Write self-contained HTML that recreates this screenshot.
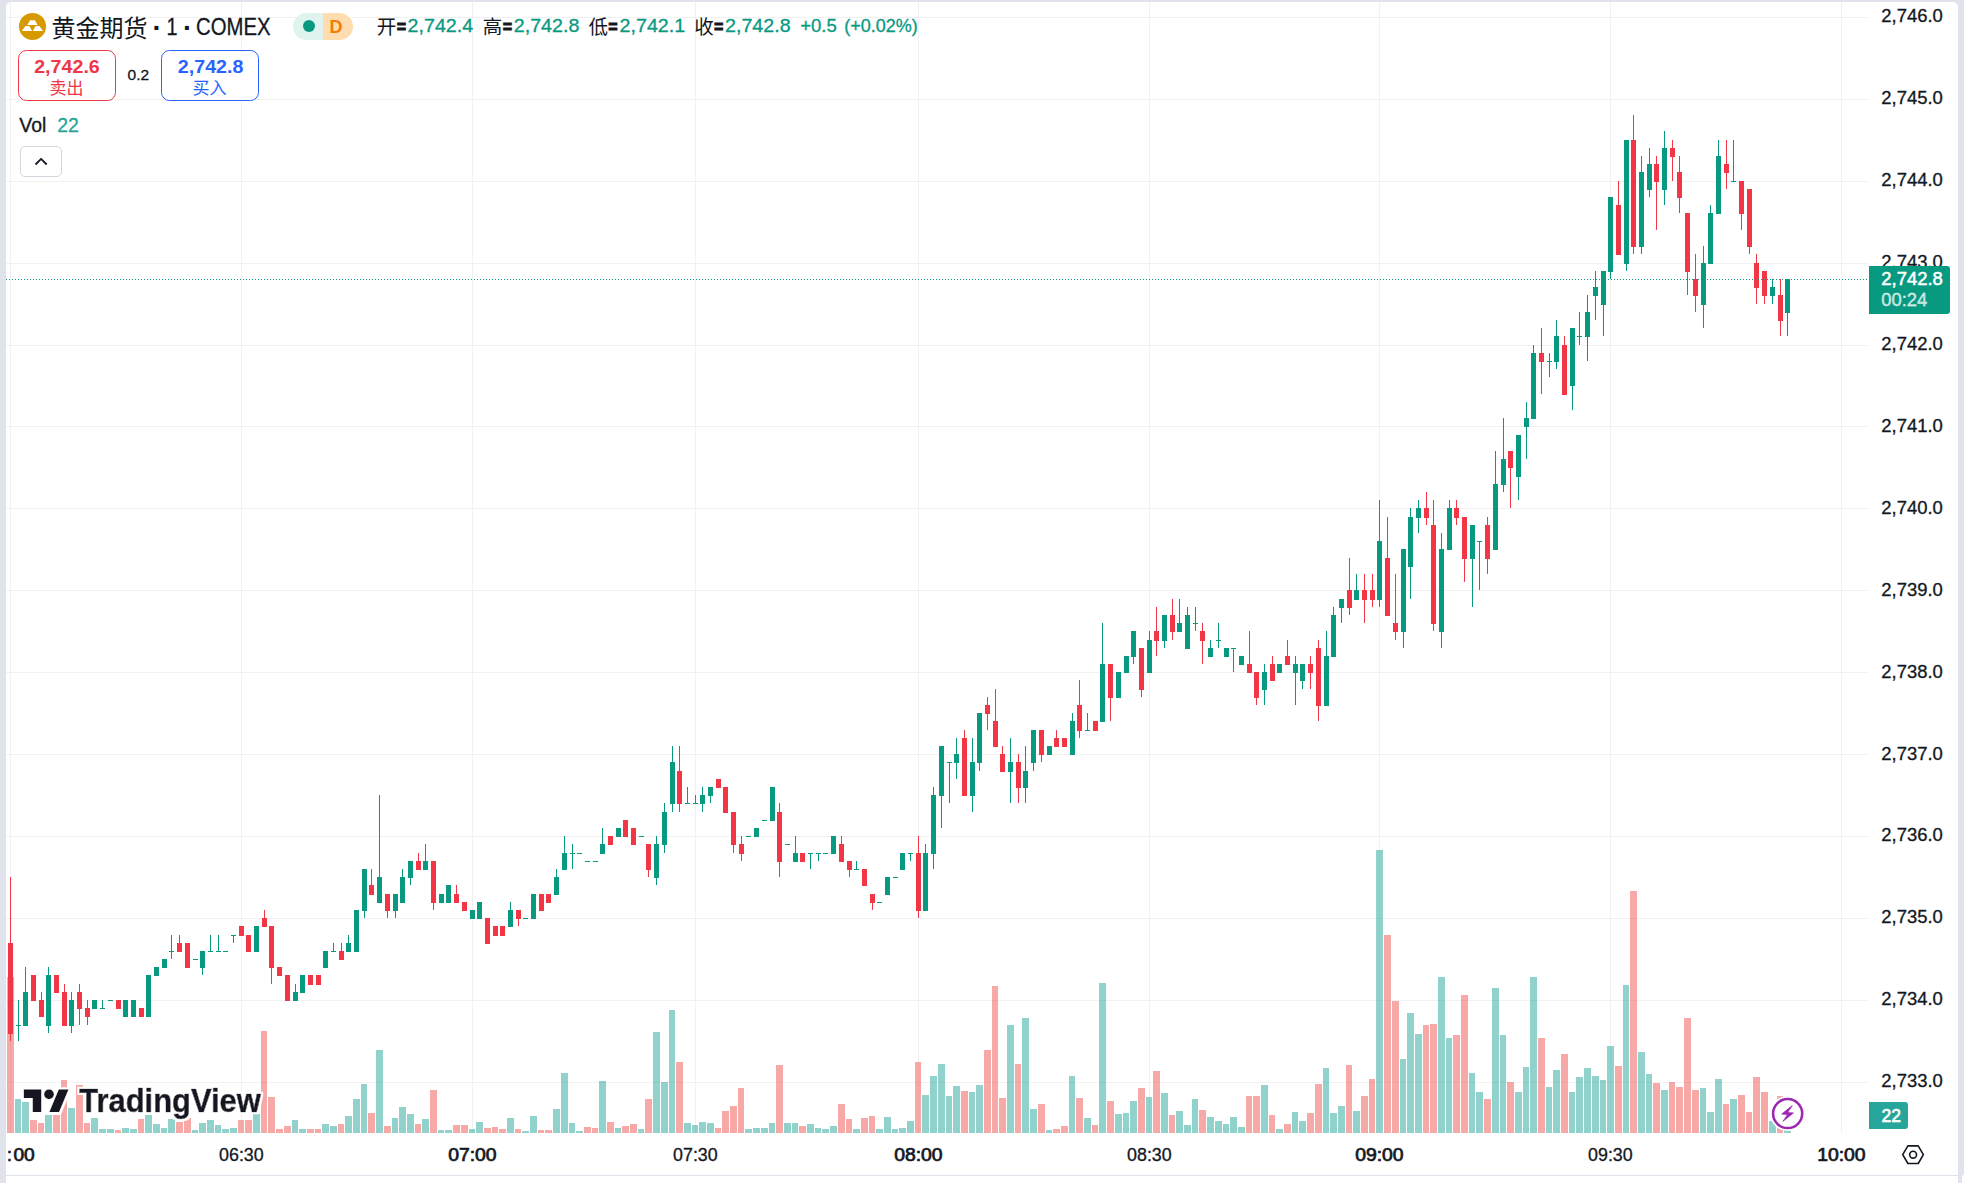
<!DOCTYPE html>
<html lang="zh-CN"><head><meta charset="utf-8"><title>黄金期货 · 1 · COMEX</title>
<style>
html,body{margin:0;padding:0;}
body{width:1964px;height:1183px;overflow:hidden;background:#e0e3eb;position:relative;font-family:"Liberation Sans", "Noto Sans CJK SC", sans-serif;}
#panel{position:absolute;left:6px;top:2px;width:1952px;height:1181px;background:#fff;border-radius:5px 5px 0 0;}
#nextpanel{position:absolute;left:1962px;top:1174px;width:8px;height:12px;background:#fff;border-radius:4px 0 0 0;}
#botline{position:absolute;left:6px;top:1175px;width:1952px;height:1px;background:#e0e3eb;}
svg{position:absolute;left:0;top:0;font-family:"Liberation Sans", "Noto Sans CJK SC", sans-serif;}
svg text{white-space:pre;}
</style></head><body>
<div id="panel"></div><div id="botline"></div><div id="nextpanel"></div>
<svg width="1964" height="1183" viewBox="0 0 1964 1183">
<defs><clipPath id="pc"><rect x="6" y="2" width="1952" height="1181"/></clipPath></defs>
<g shape-rendering="crispEdges" fill="#f1f1f2">
<rect x="10" y="2" width="1" height="1131"/>
<rect x="241" y="2" width="1" height="1131"/>
<rect x="472" y="2" width="1" height="1131"/>
<rect x="695" y="2" width="1" height="1131"/>
<rect x="918" y="2" width="1" height="1131"/>
<rect x="1149" y="2" width="1" height="1131"/>
<rect x="1379" y="2" width="1" height="1131"/>
<rect x="1610" y="2" width="1" height="1131"/>
<rect x="1841" y="2" width="1" height="1131"/>
<rect x="6" y="17" width="1862" height="1"/>
<rect x="6" y="99" width="1862" height="1"/>
<rect x="6" y="181" width="1862" height="1"/>
<rect x="6" y="263" width="1862" height="1"/>
<rect x="6" y="345" width="1862" height="1"/>
<rect x="6" y="426" width="1862" height="1"/>
<rect x="6" y="508" width="1862" height="1"/>
<rect x="6" y="590" width="1862" height="1"/>
<rect x="6" y="672" width="1862" height="1"/>
<rect x="6" y="754" width="1862" height="1"/>
<rect x="6" y="836" width="1862" height="1"/>
<rect x="6" y="918" width="1862" height="1"/>
<rect x="6" y="1000" width="1862" height="1"/>
<rect x="6" y="1082" width="1862" height="1"/>
</g>
<g shape-rendering="crispEdges" fill-opacity="0.5">
<rect x="7" y="977" width="7" height="156" fill="#ef5350"/>
<rect x="15" y="1099" width="6" height="34" fill="#26a69a"/>
<rect x="22" y="1102" width="7" height="31" fill="#26a69a"/>
<rect x="30" y="1120" width="7" height="13" fill="#ef5350"/>
<rect x="38" y="1123" width="6" height="10" fill="#ef5350"/>
<rect x="45" y="1115" width="7" height="18" fill="#26a69a"/>
<rect x="53" y="1115" width="7" height="18" fill="#ef5350"/>
<rect x="61" y="1080" width="6" height="53" fill="#ef5350"/>
<rect x="68" y="1108" width="7" height="25" fill="#26a69a"/>
<rect x="76" y="1085" width="7" height="48" fill="#ef5350"/>
<rect x="84" y="1123" width="6" height="10" fill="#ef5350"/>
<rect x="91" y="1118" width="7" height="15" fill="#26a69a"/>
<rect x="99" y="1129" width="7" height="4" fill="#26a69a"/>
<rect x="107" y="1129" width="7" height="4" fill="#26a69a"/>
<rect x="115" y="1130" width="6" height="3" fill="#ef5350"/>
<rect x="122" y="1128" width="7" height="5" fill="#26a69a"/>
<rect x="130" y="1129" width="7" height="4" fill="#26a69a"/>
<rect x="138" y="1119" width="6" height="14" fill="#ef5350"/>
<rect x="145" y="1115" width="7" height="18" fill="#26a69a"/>
<rect x="153" y="1124" width="7" height="9" fill="#26a69a"/>
<rect x="161" y="1128" width="6" height="5" fill="#26a69a"/>
<rect x="168" y="1119" width="7" height="14" fill="#26a69a"/>
<rect x="176" y="1122" width="7" height="11" fill="#ef5350"/>
<rect x="184" y="1118" width="7" height="15" fill="#ef5350"/>
<rect x="192" y="1130" width="6" height="3" fill="#26a69a"/>
<rect x="199" y="1123" width="7" height="10" fill="#26a69a"/>
<rect x="207" y="1120" width="7" height="13" fill="#26a69a"/>
<rect x="215" y="1125" width="6" height="8" fill="#26a69a"/>
<rect x="222" y="1129" width="7" height="4" fill="#26a69a"/>
<rect x="230" y="1128" width="7" height="5" fill="#26a69a"/>
<rect x="238" y="1120" width="6" height="13" fill="#ef5350"/>
<rect x="245" y="1120" width="7" height="13" fill="#ef5350"/>
<rect x="253" y="1114" width="7" height="19" fill="#26a69a"/>
<rect x="261" y="1031" width="6" height="102" fill="#ef5350"/>
<rect x="268" y="1097" width="7" height="36" fill="#ef5350"/>
<rect x="276" y="1129" width="7" height="4" fill="#ef5350"/>
<rect x="284" y="1126" width="7" height="7" fill="#ef5350"/>
<rect x="292" y="1120" width="6" height="13" fill="#26a69a"/>
<rect x="299" y="1129" width="7" height="4" fill="#26a69a"/>
<rect x="307" y="1129" width="7" height="4" fill="#ef5350"/>
<rect x="315" y="1129" width="6" height="4" fill="#ef5350"/>
<rect x="322" y="1124" width="7" height="9" fill="#26a69a"/>
<rect x="330" y="1126" width="7" height="7" fill="#26a69a"/>
<rect x="338" y="1124" width="6" height="9" fill="#ef5350"/>
<rect x="345" y="1116" width="7" height="17" fill="#26a69a"/>
<rect x="353" y="1099" width="7" height="34" fill="#26a69a"/>
<rect x="361" y="1084" width="6" height="49" fill="#26a69a"/>
<rect x="368" y="1113" width="7" height="20" fill="#ef5350"/>
<rect x="376" y="1050" width="7" height="83" fill="#26a69a"/>
<rect x="384" y="1126" width="7" height="7" fill="#ef5350"/>
<rect x="392" y="1118" width="6" height="15" fill="#26a69a"/>
<rect x="399" y="1107" width="7" height="26" fill="#26a69a"/>
<rect x="407" y="1114" width="7" height="19" fill="#26a69a"/>
<rect x="415" y="1124" width="6" height="9" fill="#ef5350"/>
<rect x="422" y="1119" width="7" height="14" fill="#26a69a"/>
<rect x="430" y="1090" width="7" height="43" fill="#ef5350"/>
<rect x="438" y="1130" width="6" height="3" fill="#26a69a"/>
<rect x="445" y="1130" width="7" height="3" fill="#26a69a"/>
<rect x="453" y="1125" width="7" height="8" fill="#ef5350"/>
<rect x="461" y="1125" width="7" height="8" fill="#ef5350"/>
<rect x="469" y="1129" width="6" height="4" fill="#26a69a"/>
<rect x="476" y="1122" width="7" height="11" fill="#26a69a"/>
<rect x="484" y="1128" width="7" height="5" fill="#ef5350"/>
<rect x="492" y="1127" width="6" height="6" fill="#ef5350"/>
<rect x="499" y="1129" width="7" height="4" fill="#ef5350"/>
<rect x="507" y="1118" width="7" height="15" fill="#26a69a"/>
<rect x="515" y="1129" width="6" height="4" fill="#ef5350"/>
<rect x="522" y="1131" width="7" height="2" fill="#26a69a"/>
<rect x="530" y="1116" width="7" height="17" fill="#26a69a"/>
<rect x="538" y="1130" width="6" height="3" fill="#ef5350"/>
<rect x="545" y="1130" width="7" height="3" fill="#ef5350"/>
<rect x="553" y="1109" width="7" height="24" fill="#26a69a"/>
<rect x="561" y="1073" width="7" height="60" fill="#26a69a"/>
<rect x="569" y="1123" width="6" height="10" fill="#26a69a"/>
<rect x="576" y="1131" width="7" height="2" fill="#26a69a"/>
<rect x="584" y="1127" width="7" height="6" fill="#ef5350"/>
<rect x="592" y="1128" width="6" height="5" fill="#ef5350"/>
<rect x="599" y="1081" width="7" height="52" fill="#26a69a"/>
<rect x="607" y="1122" width="7" height="11" fill="#ef5350"/>
<rect x="615" y="1128" width="6" height="5" fill="#26a69a"/>
<rect x="622" y="1126" width="7" height="7" fill="#ef5350"/>
<rect x="630" y="1124" width="7" height="9" fill="#ef5350"/>
<rect x="638" y="1129" width="6" height="4" fill="#26a69a"/>
<rect x="645" y="1099" width="7" height="34" fill="#ef5350"/>
<rect x="653" y="1032" width="7" height="101" fill="#26a69a"/>
<rect x="661" y="1082" width="7" height="51" fill="#26a69a"/>
<rect x="669" y="1010" width="6" height="123" fill="#26a69a"/>
<rect x="676" y="1062" width="7" height="71" fill="#ef5350"/>
<rect x="684" y="1123" width="7" height="10" fill="#26a69a"/>
<rect x="692" y="1125" width="6" height="8" fill="#26a69a"/>
<rect x="699" y="1122" width="7" height="11" fill="#26a69a"/>
<rect x="707" y="1123" width="7" height="10" fill="#26a69a"/>
<rect x="715" y="1128" width="6" height="5" fill="#ef5350"/>
<rect x="722" y="1111" width="7" height="22" fill="#ef5350"/>
<rect x="730" y="1106" width="7" height="27" fill="#ef5350"/>
<rect x="738" y="1088" width="6" height="45" fill="#ef5350"/>
<rect x="745" y="1129" width="7" height="4" fill="#26a69a"/>
<rect x="753" y="1128" width="7" height="5" fill="#26a69a"/>
<rect x="761" y="1128" width="7" height="5" fill="#26a69a"/>
<rect x="769" y="1123" width="6" height="10" fill="#26a69a"/>
<rect x="776" y="1065" width="7" height="68" fill="#ef5350"/>
<rect x="784" y="1123" width="7" height="10" fill="#26a69a"/>
<rect x="792" y="1123" width="6" height="10" fill="#26a69a"/>
<rect x="799" y="1126" width="7" height="7" fill="#ef5350"/>
<rect x="807" y="1124" width="7" height="9" fill="#26a69a"/>
<rect x="815" y="1128" width="6" height="5" fill="#26a69a"/>
<rect x="822" y="1129" width="7" height="4" fill="#26a69a"/>
<rect x="830" y="1126" width="7" height="7" fill="#26a69a"/>
<rect x="838" y="1104" width="7" height="29" fill="#ef5350"/>
<rect x="846" y="1119" width="6" height="14" fill="#ef5350"/>
<rect x="853" y="1129" width="7" height="4" fill="#26a69a"/>
<rect x="861" y="1118" width="7" height="15" fill="#ef5350"/>
<rect x="869" y="1116" width="6" height="17" fill="#ef5350"/>
<rect x="876" y="1129" width="7" height="4" fill="#26a69a"/>
<rect x="884" y="1117" width="7" height="16" fill="#26a69a"/>
<rect x="892" y="1129" width="6" height="4" fill="#26a69a"/>
<rect x="899" y="1128" width="7" height="5" fill="#26a69a"/>
<rect x="907" y="1121" width="7" height="12" fill="#26a69a"/>
<rect x="915" y="1062" width="6" height="71" fill="#ef5350"/>
<rect x="922" y="1095" width="7" height="38" fill="#26a69a"/>
<rect x="930" y="1076" width="7" height="57" fill="#26a69a"/>
<rect x="938" y="1064" width="7" height="69" fill="#26a69a"/>
<rect x="946" y="1096" width="6" height="37" fill="#26a69a"/>
<rect x="953" y="1086" width="7" height="47" fill="#26a69a"/>
<rect x="961" y="1091" width="7" height="42" fill="#ef5350"/>
<rect x="969" y="1092" width="6" height="41" fill="#26a69a"/>
<rect x="976" y="1085" width="7" height="48" fill="#26a69a"/>
<rect x="984" y="1050" width="7" height="83" fill="#ef5350"/>
<rect x="992" y="986" width="6" height="147" fill="#ef5350"/>
<rect x="999" y="1098" width="7" height="35" fill="#ef5350"/>
<rect x="1007" y="1025" width="7" height="108" fill="#26a69a"/>
<rect x="1015" y="1064" width="6" height="69" fill="#ef5350"/>
<rect x="1022" y="1018" width="7" height="115" fill="#26a69a"/>
<rect x="1030" y="1109" width="7" height="24" fill="#26a69a"/>
<rect x="1038" y="1104" width="7" height="29" fill="#ef5350"/>
<rect x="1046" y="1130" width="6" height="3" fill="#26a69a"/>
<rect x="1053" y="1129" width="7" height="4" fill="#ef5350"/>
<rect x="1061" y="1126" width="7" height="7" fill="#ef5350"/>
<rect x="1069" y="1076" width="6" height="57" fill="#26a69a"/>
<rect x="1076" y="1098" width="7" height="35" fill="#ef5350"/>
<rect x="1084" y="1118" width="7" height="15" fill="#26a69a"/>
<rect x="1092" y="1125" width="6" height="8" fill="#ef5350"/>
<rect x="1099" y="983" width="7" height="150" fill="#26a69a"/>
<rect x="1107" y="1101" width="7" height="32" fill="#ef5350"/>
<rect x="1115" y="1114" width="7" height="19" fill="#26a69a"/>
<rect x="1123" y="1113" width="6" height="20" fill="#26a69a"/>
<rect x="1130" y="1101" width="7" height="32" fill="#26a69a"/>
<rect x="1138" y="1088" width="7" height="45" fill="#ef5350"/>
<rect x="1146" y="1097" width="6" height="36" fill="#26a69a"/>
<rect x="1153" y="1071" width="7" height="62" fill="#ef5350"/>
<rect x="1161" y="1093" width="7" height="40" fill="#26a69a"/>
<rect x="1169" y="1115" width="6" height="18" fill="#ef5350"/>
<rect x="1176" y="1111" width="7" height="22" fill="#26a69a"/>
<rect x="1184" y="1125" width="7" height="8" fill="#26a69a"/>
<rect x="1192" y="1099" width="6" height="34" fill="#26a69a"/>
<rect x="1199" y="1110" width="7" height="23" fill="#ef5350"/>
<rect x="1207" y="1117" width="7" height="16" fill="#26a69a"/>
<rect x="1215" y="1121" width="7" height="12" fill="#26a69a"/>
<rect x="1223" y="1124" width="6" height="9" fill="#26a69a"/>
<rect x="1230" y="1117" width="7" height="16" fill="#26a69a"/>
<rect x="1238" y="1127" width="7" height="6" fill="#26a69a"/>
<rect x="1246" y="1096" width="6" height="37" fill="#ef5350"/>
<rect x="1253" y="1096" width="7" height="37" fill="#ef5350"/>
<rect x="1261" y="1085" width="7" height="48" fill="#26a69a"/>
<rect x="1269" y="1115" width="6" height="18" fill="#ef5350"/>
<rect x="1276" y="1129" width="7" height="4" fill="#26a69a"/>
<rect x="1284" y="1124" width="7" height="9" fill="#ef5350"/>
<rect x="1292" y="1112" width="6" height="21" fill="#26a69a"/>
<rect x="1299" y="1121" width="7" height="12" fill="#26a69a"/>
<rect x="1307" y="1113" width="7" height="20" fill="#ef5350"/>
<rect x="1315" y="1084" width="7" height="49" fill="#ef5350"/>
<rect x="1323" y="1068" width="6" height="65" fill="#26a69a"/>
<rect x="1330" y="1113" width="7" height="20" fill="#26a69a"/>
<rect x="1338" y="1106" width="7" height="27" fill="#26a69a"/>
<rect x="1346" y="1065" width="6" height="68" fill="#ef5350"/>
<rect x="1353" y="1111" width="7" height="22" fill="#26a69a"/>
<rect x="1361" y="1096" width="7" height="37" fill="#ef5350"/>
<rect x="1369" y="1079" width="6" height="54" fill="#ef5350"/>
<rect x="1376" y="850" width="7" height="283" fill="#26a69a"/>
<rect x="1384" y="935" width="7" height="198" fill="#ef5350"/>
<rect x="1392" y="1001" width="7" height="132" fill="#ef5350"/>
<rect x="1400" y="1059" width="6" height="74" fill="#26a69a"/>
<rect x="1407" y="1013" width="7" height="120" fill="#26a69a"/>
<rect x="1415" y="1034" width="7" height="99" fill="#26a69a"/>
<rect x="1423" y="1025" width="6" height="108" fill="#ef5350"/>
<rect x="1430" y="1024" width="7" height="109" fill="#ef5350"/>
<rect x="1438" y="977" width="7" height="156" fill="#26a69a"/>
<rect x="1446" y="1038" width="6" height="95" fill="#26a69a"/>
<rect x="1453" y="1035" width="7" height="98" fill="#ef5350"/>
<rect x="1461" y="995" width="7" height="138" fill="#ef5350"/>
<rect x="1469" y="1073" width="6" height="60" fill="#26a69a"/>
<rect x="1476" y="1092" width="7" height="41" fill="#26a69a"/>
<rect x="1484" y="1099" width="7" height="34" fill="#ef5350"/>
<rect x="1492" y="988" width="7" height="145" fill="#26a69a"/>
<rect x="1500" y="1035" width="6" height="98" fill="#26a69a"/>
<rect x="1507" y="1082" width="7" height="51" fill="#ef5350"/>
<rect x="1515" y="1092" width="7" height="41" fill="#26a69a"/>
<rect x="1523" y="1067" width="6" height="66" fill="#26a69a"/>
<rect x="1530" y="977" width="7" height="156" fill="#26a69a"/>
<rect x="1538" y="1038" width="7" height="95" fill="#ef5350"/>
<rect x="1546" y="1087" width="6" height="46" fill="#26a69a"/>
<rect x="1553" y="1070" width="7" height="63" fill="#26a69a"/>
<rect x="1561" y="1054" width="7" height="79" fill="#ef5350"/>
<rect x="1569" y="1092" width="6" height="41" fill="#26a69a"/>
<rect x="1576" y="1077" width="7" height="56" fill="#26a69a"/>
<rect x="1584" y="1068" width="7" height="65" fill="#26a69a"/>
<rect x="1592" y="1076" width="7" height="57" fill="#26a69a"/>
<rect x="1600" y="1080" width="6" height="53" fill="#26a69a"/>
<rect x="1607" y="1046" width="7" height="87" fill="#26a69a"/>
<rect x="1615" y="1066" width="7" height="67" fill="#ef5350"/>
<rect x="1623" y="985" width="6" height="148" fill="#26a69a"/>
<rect x="1630" y="891" width="7" height="242" fill="#ef5350"/>
<rect x="1638" y="1052" width="7" height="81" fill="#26a69a"/>
<rect x="1646" y="1074" width="6" height="59" fill="#26a69a"/>
<rect x="1653" y="1083" width="7" height="50" fill="#ef5350"/>
<rect x="1661" y="1090" width="7" height="43" fill="#26a69a"/>
<rect x="1669" y="1082" width="6" height="51" fill="#ef5350"/>
<rect x="1676" y="1087" width="7" height="46" fill="#ef5350"/>
<rect x="1684" y="1018" width="7" height="115" fill="#ef5350"/>
<rect x="1692" y="1090" width="7" height="43" fill="#ef5350"/>
<rect x="1700" y="1088" width="6" height="45" fill="#26a69a"/>
<rect x="1707" y="1112" width="7" height="21" fill="#26a69a"/>
<rect x="1715" y="1079" width="7" height="54" fill="#26a69a"/>
<rect x="1723" y="1104" width="6" height="29" fill="#ef5350"/>
<rect x="1730" y="1099" width="7" height="34" fill="#26a69a"/>
<rect x="1738" y="1095" width="7" height="38" fill="#ef5350"/>
<rect x="1746" y="1112" width="6" height="21" fill="#ef5350"/>
<rect x="1753" y="1077" width="7" height="56" fill="#ef5350"/>
<rect x="1761" y="1092" width="7" height="41" fill="#ef5350"/>
<rect x="1769" y="1121" width="7" height="12" fill="#26a69a"/>
<rect x="1777" y="1096" width="6" height="37" fill="#ef5350"/>
<rect x="1784" y="1130" width="7" height="3" fill="#26a69a"/>
</g>
<g shape-rendering="crispEdges">
<rect x="10" y="877" width="1" height="164" fill="#f23645"/>
<rect x="8" y="943" width="5" height="91" fill="#f23645"/>
<rect x="18" y="1000" width="1" height="41" fill="#089981"/>
<rect x="16" y="1025" width="5" height="1" fill="#089981"/>
<rect x="25" y="967" width="1" height="58" fill="#089981"/>
<rect x="23" y="992" width="5" height="34" fill="#089981"/>
<rect x="33" y="975" width="1" height="25" fill="#f23645"/>
<rect x="31" y="975" width="5" height="26" fill="#f23645"/>
<rect x="41" y="992" width="1" height="24" fill="#f23645"/>
<rect x="39" y="1000" width="5" height="17" fill="#f23645"/>
<rect x="48" y="967" width="1" height="66" fill="#089981"/>
<rect x="46" y="975" width="5" height="51" fill="#089981"/>
<rect x="56" y="975" width="1" height="17" fill="#f23645"/>
<rect x="54" y="975" width="5" height="18" fill="#f23645"/>
<rect x="64" y="984" width="1" height="41" fill="#f23645"/>
<rect x="62" y="992" width="5" height="34" fill="#f23645"/>
<rect x="71" y="992" width="1" height="41" fill="#089981"/>
<rect x="69" y="1000" width="5" height="26" fill="#089981"/>
<rect x="79" y="984" width="1" height="41" fill="#f23645"/>
<rect x="77" y="992" width="5" height="17" fill="#f23645"/>
<rect x="87" y="1000" width="1" height="25" fill="#f23645"/>
<rect x="85" y="1008" width="5" height="9" fill="#f23645"/>
<rect x="94" y="1000" width="1" height="8" fill="#089981"/>
<rect x="92" y="1000" width="5" height="9" fill="#089981"/>
<rect x="102" y="1000" width="1" height="8" fill="#089981"/>
<rect x="100" y="1008" width="5" height="1" fill="#089981"/>
<rect x="108" y="1000" width="5" height="1" fill="#089981"/>
<rect x="118" y="1000" width="1" height="8" fill="#f23645"/>
<rect x="116" y="1000" width="5" height="9" fill="#f23645"/>
<rect x="125" y="1000" width="1" height="16" fill="#089981"/>
<rect x="123" y="1000" width="5" height="17" fill="#089981"/>
<rect x="133" y="1000" width="1" height="16" fill="#089981"/>
<rect x="131" y="1000" width="5" height="17" fill="#089981"/>
<rect x="141" y="1008" width="1" height="8" fill="#f23645"/>
<rect x="139" y="1008" width="5" height="9" fill="#f23645"/>
<rect x="148" y="975" width="1" height="41" fill="#089981"/>
<rect x="146" y="975" width="5" height="42" fill="#089981"/>
<rect x="156" y="967" width="1" height="8" fill="#089981"/>
<rect x="154" y="967" width="5" height="9" fill="#089981"/>
<rect x="164" y="959" width="1" height="8" fill="#089981"/>
<rect x="162" y="959" width="5" height="9" fill="#089981"/>
<rect x="171" y="935" width="1" height="24" fill="#089981"/>
<rect x="169" y="951" width="5" height="1" fill="#089981"/>
<rect x="179" y="935" width="1" height="16" fill="#f23645"/>
<rect x="177" y="943" width="5" height="9" fill="#f23645"/>
<rect x="187" y="943" width="1" height="24" fill="#f23645"/>
<rect x="185" y="943" width="5" height="25" fill="#f23645"/>
<rect x="193" y="959" width="5" height="1" fill="#089981"/>
<rect x="202" y="951" width="1" height="24" fill="#089981"/>
<rect x="200" y="951" width="5" height="17" fill="#089981"/>
<rect x="210" y="935" width="1" height="16" fill="#089981"/>
<rect x="208" y="951" width="5" height="1" fill="#089981"/>
<rect x="218" y="935" width="1" height="16" fill="#089981"/>
<rect x="216" y="951" width="5" height="1" fill="#089981"/>
<rect x="223" y="951" width="5" height="1" fill="#089981"/>
<rect x="233" y="935" width="1" height="8" fill="#089981"/>
<rect x="231" y="935" width="5" height="1" fill="#089981"/>
<rect x="241" y="926" width="1" height="9" fill="#f23645"/>
<rect x="239" y="926" width="5" height="10" fill="#f23645"/>
<rect x="248" y="935" width="1" height="16" fill="#f23645"/>
<rect x="246" y="935" width="5" height="17" fill="#f23645"/>
<rect x="256" y="926" width="1" height="25" fill="#089981"/>
<rect x="254" y="926" width="5" height="26" fill="#089981"/>
<rect x="264" y="910" width="1" height="16" fill="#f23645"/>
<rect x="262" y="918" width="5" height="9" fill="#f23645"/>
<rect x="271" y="926" width="1" height="58" fill="#f23645"/>
<rect x="269" y="926" width="5" height="42" fill="#f23645"/>
<rect x="279" y="967" width="1" height="8" fill="#f23645"/>
<rect x="277" y="967" width="5" height="9" fill="#f23645"/>
<rect x="287" y="975" width="1" height="25" fill="#f23645"/>
<rect x="285" y="975" width="5" height="26" fill="#f23645"/>
<rect x="295" y="984" width="1" height="16" fill="#089981"/>
<rect x="293" y="992" width="5" height="9" fill="#089981"/>
<rect x="302" y="975" width="1" height="17" fill="#089981"/>
<rect x="300" y="975" width="5" height="18" fill="#089981"/>
<rect x="310" y="975" width="1" height="9" fill="#f23645"/>
<rect x="308" y="975" width="5" height="10" fill="#f23645"/>
<rect x="318" y="975" width="1" height="9" fill="#f23645"/>
<rect x="316" y="975" width="5" height="10" fill="#f23645"/>
<rect x="325" y="951" width="1" height="16" fill="#089981"/>
<rect x="323" y="951" width="5" height="17" fill="#089981"/>
<rect x="333" y="943" width="1" height="8" fill="#089981"/>
<rect x="331" y="951" width="5" height="1" fill="#089981"/>
<rect x="341" y="943" width="1" height="16" fill="#f23645"/>
<rect x="339" y="951" width="5" height="9" fill="#f23645"/>
<rect x="348" y="935" width="1" height="16" fill="#089981"/>
<rect x="346" y="943" width="5" height="9" fill="#089981"/>
<rect x="356" y="910" width="1" height="41" fill="#089981"/>
<rect x="354" y="910" width="5" height="42" fill="#089981"/>
<rect x="364" y="869" width="1" height="49" fill="#089981"/>
<rect x="362" y="869" width="5" height="42" fill="#089981"/>
<rect x="371" y="869" width="1" height="25" fill="#f23645"/>
<rect x="369" y="885" width="5" height="10" fill="#f23645"/>
<rect x="379" y="795" width="1" height="107" fill="#089981"/>
<rect x="377" y="877" width="5" height="26" fill="#089981"/>
<rect x="387" y="894" width="1" height="24" fill="#f23645"/>
<rect x="385" y="894" width="5" height="17" fill="#f23645"/>
<rect x="395" y="894" width="1" height="24" fill="#089981"/>
<rect x="393" y="894" width="5" height="17" fill="#089981"/>
<rect x="402" y="869" width="1" height="33" fill="#089981"/>
<rect x="400" y="877" width="5" height="26" fill="#089981"/>
<rect x="410" y="861" width="1" height="24" fill="#089981"/>
<rect x="408" y="861" width="5" height="17" fill="#089981"/>
<rect x="418" y="853" width="1" height="16" fill="#f23645"/>
<rect x="416" y="861" width="5" height="9" fill="#f23645"/>
<rect x="425" y="844" width="1" height="25" fill="#089981"/>
<rect x="423" y="861" width="5" height="9" fill="#089981"/>
<rect x="433" y="861" width="1" height="49" fill="#f23645"/>
<rect x="431" y="861" width="5" height="42" fill="#f23645"/>
<rect x="441" y="894" width="1" height="8" fill="#089981"/>
<rect x="439" y="894" width="5" height="9" fill="#089981"/>
<rect x="448" y="885" width="1" height="17" fill="#089981"/>
<rect x="446" y="885" width="5" height="18" fill="#089981"/>
<rect x="456" y="885" width="1" height="17" fill="#f23645"/>
<rect x="454" y="894" width="5" height="9" fill="#f23645"/>
<rect x="464" y="902" width="1" height="8" fill="#f23645"/>
<rect x="462" y="902" width="5" height="9" fill="#f23645"/>
<rect x="472" y="910" width="1" height="8" fill="#089981"/>
<rect x="470" y="910" width="5" height="9" fill="#089981"/>
<rect x="479" y="902" width="1" height="16" fill="#089981"/>
<rect x="477" y="902" width="5" height="17" fill="#089981"/>
<rect x="487" y="918" width="1" height="25" fill="#f23645"/>
<rect x="485" y="918" width="5" height="26" fill="#f23645"/>
<rect x="495" y="926" width="1" height="9" fill="#f23645"/>
<rect x="493" y="926" width="5" height="10" fill="#f23645"/>
<rect x="502" y="926" width="1" height="9" fill="#f23645"/>
<rect x="500" y="926" width="5" height="10" fill="#f23645"/>
<rect x="510" y="902" width="1" height="24" fill="#089981"/>
<rect x="508" y="910" width="5" height="17" fill="#089981"/>
<rect x="518" y="910" width="1" height="16" fill="#f23645"/>
<rect x="516" y="910" width="5" height="9" fill="#f23645"/>
<rect x="523" y="918" width="5" height="1" fill="#089981"/>
<rect x="533" y="894" width="1" height="24" fill="#089981"/>
<rect x="531" y="894" width="5" height="25" fill="#089981"/>
<rect x="541" y="894" width="1" height="16" fill="#f23645"/>
<rect x="539" y="894" width="5" height="17" fill="#f23645"/>
<rect x="548" y="894" width="1" height="8" fill="#f23645"/>
<rect x="546" y="894" width="5" height="9" fill="#f23645"/>
<rect x="556" y="869" width="1" height="25" fill="#089981"/>
<rect x="554" y="877" width="5" height="18" fill="#089981"/>
<rect x="564" y="836" width="1" height="33" fill="#089981"/>
<rect x="562" y="853" width="5" height="17" fill="#089981"/>
<rect x="572" y="844" width="1" height="25" fill="#089981"/>
<rect x="570" y="853" width="5" height="1" fill="#089981"/>
<rect x="577" y="853" width="5" height="1" fill="#089981"/>
<rect x="585" y="861" width="5" height="1" fill="#089981"/>
<rect x="593" y="861" width="5" height="1" fill="#089981"/>
<rect x="602" y="828" width="1" height="25" fill="#089981"/>
<rect x="600" y="844" width="5" height="10" fill="#089981"/>
<rect x="610" y="836" width="1" height="8" fill="#f23645"/>
<rect x="608" y="836" width="5" height="9" fill="#f23645"/>
<rect x="618" y="828" width="1" height="8" fill="#089981"/>
<rect x="616" y="828" width="5" height="9" fill="#089981"/>
<rect x="625" y="820" width="1" height="16" fill="#f23645"/>
<rect x="623" y="820" width="5" height="17" fill="#f23645"/>
<rect x="633" y="828" width="1" height="16" fill="#f23645"/>
<rect x="631" y="828" width="5" height="17" fill="#f23645"/>
<rect x="639" y="836" width="5" height="1" fill="#089981"/>
<rect x="648" y="844" width="1" height="33" fill="#f23645"/>
<rect x="646" y="844" width="5" height="26" fill="#f23645"/>
<rect x="656" y="836" width="1" height="49" fill="#089981"/>
<rect x="654" y="844" width="5" height="34" fill="#089981"/>
<rect x="664" y="803" width="1" height="50" fill="#089981"/>
<rect x="662" y="812" width="5" height="33" fill="#089981"/>
<rect x="672" y="746" width="1" height="66" fill="#089981"/>
<rect x="670" y="762" width="5" height="42" fill="#089981"/>
<rect x="679" y="746" width="1" height="66" fill="#f23645"/>
<rect x="677" y="771" width="5" height="33" fill="#f23645"/>
<rect x="687" y="787" width="1" height="16" fill="#089981"/>
<rect x="685" y="803" width="5" height="1" fill="#089981"/>
<rect x="695" y="795" width="1" height="8" fill="#089981"/>
<rect x="693" y="803" width="5" height="1" fill="#089981"/>
<rect x="702" y="787" width="1" height="25" fill="#089981"/>
<rect x="700" y="795" width="5" height="9" fill="#089981"/>
<rect x="710" y="787" width="1" height="16" fill="#089981"/>
<rect x="708" y="787" width="5" height="9" fill="#089981"/>
<rect x="718" y="779" width="1" height="8" fill="#f23645"/>
<rect x="716" y="779" width="5" height="9" fill="#f23645"/>
<rect x="725" y="787" width="1" height="25" fill="#f23645"/>
<rect x="723" y="787" width="5" height="26" fill="#f23645"/>
<rect x="733" y="812" width="1" height="41" fill="#f23645"/>
<rect x="731" y="812" width="5" height="33" fill="#f23645"/>
<rect x="741" y="836" width="1" height="25" fill="#f23645"/>
<rect x="739" y="844" width="5" height="10" fill="#f23645"/>
<rect x="746" y="836" width="5" height="1" fill="#089981"/>
<rect x="756" y="828" width="1" height="8" fill="#089981"/>
<rect x="754" y="828" width="5" height="9" fill="#089981"/>
<rect x="762" y="820" width="5" height="1" fill="#089981"/>
<rect x="772" y="787" width="1" height="33" fill="#089981"/>
<rect x="770" y="787" width="5" height="34" fill="#089981"/>
<rect x="779" y="803" width="1" height="74" fill="#f23645"/>
<rect x="777" y="812" width="5" height="50" fill="#f23645"/>
<rect x="785" y="844" width="5" height="1" fill="#089981"/>
<rect x="795" y="836" width="1" height="25" fill="#089981"/>
<rect x="793" y="853" width="5" height="9" fill="#089981"/>
<rect x="802" y="853" width="1" height="8" fill="#f23645"/>
<rect x="800" y="853" width="5" height="9" fill="#f23645"/>
<rect x="810" y="853" width="1" height="16" fill="#089981"/>
<rect x="808" y="853" width="5" height="1" fill="#089981"/>
<rect x="818" y="853" width="1" height="8" fill="#089981"/>
<rect x="816" y="853" width="5" height="1" fill="#089981"/>
<rect x="823" y="853" width="5" height="1" fill="#089981"/>
<rect x="833" y="836" width="1" height="17" fill="#089981"/>
<rect x="831" y="836" width="5" height="18" fill="#089981"/>
<rect x="841" y="836" width="1" height="25" fill="#f23645"/>
<rect x="839" y="844" width="5" height="18" fill="#f23645"/>
<rect x="849" y="861" width="1" height="16" fill="#f23645"/>
<rect x="847" y="861" width="5" height="9" fill="#f23645"/>
<rect x="856" y="861" width="1" height="8" fill="#089981"/>
<rect x="854" y="869" width="5" height="1" fill="#089981"/>
<rect x="864" y="869" width="1" height="16" fill="#f23645"/>
<rect x="862" y="869" width="5" height="17" fill="#f23645"/>
<rect x="872" y="894" width="1" height="16" fill="#f23645"/>
<rect x="870" y="894" width="5" height="9" fill="#f23645"/>
<rect x="877" y="902" width="5" height="1" fill="#089981"/>
<rect x="887" y="877" width="1" height="17" fill="#089981"/>
<rect x="885" y="877" width="5" height="18" fill="#089981"/>
<rect x="893" y="877" width="5" height="1" fill="#089981"/>
<rect x="902" y="853" width="1" height="16" fill="#089981"/>
<rect x="900" y="853" width="5" height="17" fill="#089981"/>
<rect x="910" y="853" width="1" height="8" fill="#089981"/>
<rect x="908" y="853" width="5" height="1" fill="#089981"/>
<rect x="918" y="836" width="1" height="82" fill="#f23645"/>
<rect x="916" y="853" width="5" height="58" fill="#f23645"/>
<rect x="925" y="844" width="1" height="66" fill="#089981"/>
<rect x="923" y="853" width="5" height="58" fill="#089981"/>
<rect x="933" y="787" width="1" height="82" fill="#089981"/>
<rect x="931" y="795" width="5" height="59" fill="#089981"/>
<rect x="941" y="746" width="1" height="82" fill="#089981"/>
<rect x="939" y="746" width="5" height="50" fill="#089981"/>
<rect x="949" y="762" width="1" height="41" fill="#089981"/>
<rect x="947" y="762" width="5" height="1" fill="#089981"/>
<rect x="956" y="738" width="1" height="41" fill="#089981"/>
<rect x="954" y="754" width="5" height="9" fill="#089981"/>
<rect x="964" y="730" width="1" height="65" fill="#f23645"/>
<rect x="962" y="738" width="5" height="58" fill="#f23645"/>
<rect x="972" y="738" width="1" height="74" fill="#089981"/>
<rect x="970" y="762" width="5" height="34" fill="#089981"/>
<rect x="979" y="713" width="1" height="58" fill="#089981"/>
<rect x="977" y="713" width="5" height="50" fill="#089981"/>
<rect x="987" y="697" width="1" height="33" fill="#f23645"/>
<rect x="985" y="705" width="5" height="9" fill="#f23645"/>
<rect x="995" y="689" width="1" height="57" fill="#f23645"/>
<rect x="993" y="721" width="5" height="26" fill="#f23645"/>
<rect x="1002" y="746" width="1" height="25" fill="#f23645"/>
<rect x="1000" y="754" width="5" height="18" fill="#f23645"/>
<rect x="1010" y="738" width="1" height="65" fill="#089981"/>
<rect x="1008" y="762" width="5" height="10" fill="#089981"/>
<rect x="1018" y="754" width="1" height="49" fill="#f23645"/>
<rect x="1016" y="762" width="5" height="26" fill="#f23645"/>
<rect x="1025" y="746" width="1" height="57" fill="#089981"/>
<rect x="1023" y="771" width="5" height="17" fill="#089981"/>
<rect x="1033" y="730" width="1" height="41" fill="#089981"/>
<rect x="1031" y="730" width="5" height="33" fill="#089981"/>
<rect x="1041" y="730" width="1" height="32" fill="#f23645"/>
<rect x="1039" y="730" width="5" height="25" fill="#f23645"/>
<rect x="1049" y="746" width="1" height="8" fill="#089981"/>
<rect x="1047" y="746" width="5" height="9" fill="#089981"/>
<rect x="1056" y="730" width="1" height="16" fill="#f23645"/>
<rect x="1054" y="738" width="5" height="9" fill="#f23645"/>
<rect x="1064" y="738" width="1" height="8" fill="#f23645"/>
<rect x="1062" y="738" width="5" height="9" fill="#f23645"/>
<rect x="1072" y="713" width="1" height="41" fill="#089981"/>
<rect x="1070" y="721" width="5" height="34" fill="#089981"/>
<rect x="1079" y="680" width="1" height="58" fill="#f23645"/>
<rect x="1077" y="705" width="5" height="26" fill="#f23645"/>
<rect x="1087" y="713" width="1" height="17" fill="#089981"/>
<rect x="1085" y="730" width="5" height="1" fill="#089981"/>
<rect x="1095" y="721" width="1" height="9" fill="#f23645"/>
<rect x="1093" y="721" width="5" height="10" fill="#f23645"/>
<rect x="1102" y="623" width="1" height="98" fill="#089981"/>
<rect x="1100" y="664" width="5" height="58" fill="#089981"/>
<rect x="1110" y="664" width="1" height="57" fill="#f23645"/>
<rect x="1108" y="664" width="5" height="34" fill="#f23645"/>
<rect x="1118" y="672" width="1" height="25" fill="#089981"/>
<rect x="1116" y="672" width="5" height="26" fill="#089981"/>
<rect x="1126" y="656" width="1" height="16" fill="#089981"/>
<rect x="1124" y="656" width="5" height="17" fill="#089981"/>
<rect x="1133" y="631" width="1" height="33" fill="#089981"/>
<rect x="1131" y="631" width="5" height="26" fill="#089981"/>
<rect x="1141" y="648" width="1" height="49" fill="#f23645"/>
<rect x="1139" y="648" width="5" height="42" fill="#f23645"/>
<rect x="1149" y="631" width="1" height="41" fill="#089981"/>
<rect x="1147" y="640" width="5" height="33" fill="#089981"/>
<rect x="1156" y="607" width="1" height="49" fill="#f23645"/>
<rect x="1154" y="631" width="5" height="10" fill="#f23645"/>
<rect x="1164" y="615" width="1" height="33" fill="#089981"/>
<rect x="1162" y="615" width="5" height="26" fill="#089981"/>
<rect x="1172" y="599" width="1" height="41" fill="#f23645"/>
<rect x="1170" y="615" width="5" height="17" fill="#f23645"/>
<rect x="1179" y="599" width="1" height="32" fill="#089981"/>
<rect x="1177" y="623" width="5" height="9" fill="#089981"/>
<rect x="1187" y="607" width="1" height="41" fill="#089981"/>
<rect x="1185" y="615" width="5" height="34" fill="#089981"/>
<rect x="1195" y="607" width="1" height="24" fill="#089981"/>
<rect x="1193" y="623" width="5" height="1" fill="#089981"/>
<rect x="1202" y="623" width="1" height="41" fill="#f23645"/>
<rect x="1200" y="631" width="5" height="10" fill="#f23645"/>
<rect x="1210" y="640" width="1" height="16" fill="#089981"/>
<rect x="1208" y="648" width="5" height="9" fill="#089981"/>
<rect x="1218" y="623" width="1" height="25" fill="#089981"/>
<rect x="1216" y="640" width="5" height="1" fill="#089981"/>
<rect x="1226" y="648" width="1" height="8" fill="#089981"/>
<rect x="1224" y="648" width="5" height="9" fill="#089981"/>
<rect x="1233" y="648" width="1" height="24" fill="#089981"/>
<rect x="1231" y="648" width="5" height="1" fill="#089981"/>
<rect x="1241" y="656" width="1" height="8" fill="#089981"/>
<rect x="1239" y="656" width="5" height="9" fill="#089981"/>
<rect x="1249" y="631" width="1" height="41" fill="#f23645"/>
<rect x="1247" y="664" width="5" height="9" fill="#f23645"/>
<rect x="1256" y="672" width="1" height="33" fill="#f23645"/>
<rect x="1254" y="672" width="5" height="26" fill="#f23645"/>
<rect x="1264" y="664" width="1" height="41" fill="#089981"/>
<rect x="1262" y="672" width="5" height="18" fill="#089981"/>
<rect x="1272" y="656" width="1" height="24" fill="#f23645"/>
<rect x="1270" y="664" width="5" height="17" fill="#f23645"/>
<rect x="1279" y="664" width="1" height="8" fill="#089981"/>
<rect x="1277" y="664" width="5" height="9" fill="#089981"/>
<rect x="1287" y="640" width="1" height="24" fill="#f23645"/>
<rect x="1285" y="656" width="5" height="9" fill="#f23645"/>
<rect x="1295" y="656" width="1" height="49" fill="#089981"/>
<rect x="1293" y="664" width="5" height="9" fill="#089981"/>
<rect x="1302" y="664" width="1" height="25" fill="#089981"/>
<rect x="1300" y="664" width="5" height="17" fill="#089981"/>
<rect x="1310" y="656" width="1" height="33" fill="#f23645"/>
<rect x="1308" y="664" width="5" height="9" fill="#f23645"/>
<rect x="1318" y="640" width="1" height="81" fill="#f23645"/>
<rect x="1316" y="648" width="5" height="58" fill="#f23645"/>
<rect x="1326" y="631" width="1" height="74" fill="#089981"/>
<rect x="1324" y="656" width="5" height="50" fill="#089981"/>
<rect x="1333" y="607" width="1" height="49" fill="#089981"/>
<rect x="1331" y="615" width="5" height="42" fill="#089981"/>
<rect x="1341" y="599" width="1" height="24" fill="#089981"/>
<rect x="1339" y="599" width="5" height="9" fill="#089981"/>
<rect x="1349" y="558" width="1" height="57" fill="#f23645"/>
<rect x="1347" y="590" width="5" height="18" fill="#f23645"/>
<rect x="1356" y="574" width="1" height="25" fill="#089981"/>
<rect x="1354" y="590" width="5" height="10" fill="#089981"/>
<rect x="1364" y="574" width="1" height="49" fill="#f23645"/>
<rect x="1362" y="590" width="5" height="10" fill="#f23645"/>
<rect x="1372" y="574" width="1" height="33" fill="#f23645"/>
<rect x="1370" y="590" width="5" height="10" fill="#f23645"/>
<rect x="1379" y="500" width="1" height="107" fill="#089981"/>
<rect x="1377" y="541" width="5" height="59" fill="#089981"/>
<rect x="1387" y="517" width="1" height="98" fill="#f23645"/>
<rect x="1385" y="558" width="5" height="58" fill="#f23645"/>
<rect x="1395" y="574" width="1" height="66" fill="#f23645"/>
<rect x="1393" y="623" width="5" height="9" fill="#f23645"/>
<rect x="1403" y="549" width="1" height="99" fill="#089981"/>
<rect x="1401" y="549" width="5" height="83" fill="#089981"/>
<rect x="1410" y="508" width="1" height="91" fill="#089981"/>
<rect x="1408" y="517" width="5" height="50" fill="#089981"/>
<rect x="1418" y="500" width="1" height="33" fill="#089981"/>
<rect x="1416" y="508" width="5" height="10" fill="#089981"/>
<rect x="1426" y="492" width="1" height="33" fill="#f23645"/>
<rect x="1424" y="508" width="5" height="10" fill="#f23645"/>
<rect x="1433" y="500" width="1" height="131" fill="#f23645"/>
<rect x="1431" y="525" width="5" height="99" fill="#f23645"/>
<rect x="1441" y="533" width="1" height="115" fill="#089981"/>
<rect x="1439" y="549" width="5" height="83" fill="#089981"/>
<rect x="1449" y="500" width="1" height="49" fill="#089981"/>
<rect x="1447" y="508" width="5" height="42" fill="#089981"/>
<rect x="1456" y="500" width="1" height="25" fill="#f23645"/>
<rect x="1454" y="508" width="5" height="10" fill="#f23645"/>
<rect x="1464" y="517" width="1" height="65" fill="#f23645"/>
<rect x="1462" y="517" width="5" height="42" fill="#f23645"/>
<rect x="1472" y="525" width="1" height="82" fill="#089981"/>
<rect x="1470" y="525" width="5" height="34" fill="#089981"/>
<rect x="1479" y="541" width="1" height="49" fill="#089981"/>
<rect x="1477" y="541" width="5" height="1" fill="#089981"/>
<rect x="1487" y="517" width="1" height="57" fill="#f23645"/>
<rect x="1485" y="525" width="5" height="34" fill="#f23645"/>
<rect x="1495" y="451" width="1" height="98" fill="#089981"/>
<rect x="1493" y="484" width="5" height="66" fill="#089981"/>
<rect x="1503" y="418" width="1" height="74" fill="#089981"/>
<rect x="1501" y="459" width="5" height="26" fill="#089981"/>
<rect x="1510" y="451" width="1" height="57" fill="#f23645"/>
<rect x="1508" y="451" width="5" height="17" fill="#f23645"/>
<rect x="1518" y="435" width="1" height="65" fill="#089981"/>
<rect x="1516" y="435" width="5" height="42" fill="#089981"/>
<rect x="1526" y="402" width="1" height="57" fill="#089981"/>
<rect x="1524" y="418" width="5" height="9" fill="#089981"/>
<rect x="1533" y="345" width="1" height="73" fill="#089981"/>
<rect x="1531" y="353" width="5" height="66" fill="#089981"/>
<rect x="1541" y="328" width="1" height="66" fill="#f23645"/>
<rect x="1539" y="353" width="5" height="9" fill="#f23645"/>
<rect x="1549" y="353" width="1" height="24" fill="#089981"/>
<rect x="1547" y="361" width="5" height="1" fill="#089981"/>
<rect x="1556" y="320" width="1" height="49" fill="#089981"/>
<rect x="1554" y="336" width="5" height="26" fill="#089981"/>
<rect x="1564" y="336" width="1" height="58" fill="#f23645"/>
<rect x="1562" y="345" width="5" height="50" fill="#f23645"/>
<rect x="1572" y="328" width="1" height="82" fill="#089981"/>
<rect x="1570" y="328" width="5" height="58" fill="#089981"/>
<rect x="1579" y="312" width="1" height="33" fill="#089981"/>
<rect x="1577" y="336" width="5" height="1" fill="#089981"/>
<rect x="1587" y="295" width="1" height="66" fill="#089981"/>
<rect x="1585" y="312" width="5" height="25" fill="#089981"/>
<rect x="1595" y="271" width="1" height="49" fill="#089981"/>
<rect x="1593" y="287" width="5" height="9" fill="#089981"/>
<rect x="1603" y="271" width="1" height="65" fill="#089981"/>
<rect x="1601" y="271" width="5" height="34" fill="#089981"/>
<rect x="1610" y="197" width="1" height="82" fill="#089981"/>
<rect x="1608" y="197" width="5" height="75" fill="#089981"/>
<rect x="1618" y="181" width="1" height="73" fill="#f23645"/>
<rect x="1616" y="205" width="5" height="50" fill="#f23645"/>
<rect x="1626" y="140" width="1" height="131" fill="#089981"/>
<rect x="1624" y="140" width="5" height="124" fill="#089981"/>
<rect x="1633" y="115" width="1" height="139" fill="#f23645"/>
<rect x="1631" y="140" width="5" height="107" fill="#f23645"/>
<rect x="1641" y="156" width="1" height="98" fill="#089981"/>
<rect x="1639" y="172" width="5" height="75" fill="#089981"/>
<rect x="1649" y="148" width="1" height="49" fill="#089981"/>
<rect x="1647" y="164" width="5" height="26" fill="#089981"/>
<rect x="1656" y="156" width="1" height="74" fill="#f23645"/>
<rect x="1654" y="164" width="5" height="18" fill="#f23645"/>
<rect x="1664" y="131" width="1" height="74" fill="#089981"/>
<rect x="1662" y="148" width="5" height="42" fill="#089981"/>
<rect x="1672" y="140" width="1" height="41" fill="#f23645"/>
<rect x="1670" y="148" width="5" height="9" fill="#f23645"/>
<rect x="1679" y="156" width="1" height="57" fill="#f23645"/>
<rect x="1677" y="172" width="5" height="26" fill="#f23645"/>
<rect x="1687" y="213" width="1" height="82" fill="#f23645"/>
<rect x="1685" y="213" width="5" height="59" fill="#f23645"/>
<rect x="1695" y="254" width="1" height="58" fill="#f23645"/>
<rect x="1693" y="279" width="5" height="17" fill="#f23645"/>
<rect x="1703" y="246" width="1" height="82" fill="#089981"/>
<rect x="1701" y="263" width="5" height="42" fill="#089981"/>
<rect x="1710" y="205" width="1" height="58" fill="#089981"/>
<rect x="1708" y="213" width="5" height="51" fill="#089981"/>
<rect x="1718" y="140" width="1" height="73" fill="#089981"/>
<rect x="1716" y="156" width="5" height="58" fill="#089981"/>
<rect x="1726" y="140" width="1" height="49" fill="#f23645"/>
<rect x="1724" y="164" width="5" height="9" fill="#f23645"/>
<rect x="1733" y="140" width="1" height="41" fill="#089981"/>
<rect x="1731" y="181" width="5" height="1" fill="#089981"/>
<rect x="1741" y="181" width="1" height="49" fill="#f23645"/>
<rect x="1739" y="181" width="5" height="33" fill="#f23645"/>
<rect x="1749" y="189" width="1" height="65" fill="#f23645"/>
<rect x="1747" y="189" width="5" height="58" fill="#f23645"/>
<rect x="1756" y="254" width="1" height="50" fill="#f23645"/>
<rect x="1754" y="263" width="5" height="25" fill="#f23645"/>
<rect x="1764" y="271" width="1" height="33" fill="#f23645"/>
<rect x="1762" y="271" width="5" height="25" fill="#f23645"/>
<rect x="1772" y="279" width="1" height="25" fill="#089981"/>
<rect x="1770" y="287" width="5" height="9" fill="#089981"/>
<rect x="1780" y="279" width="1" height="57" fill="#f23645"/>
<rect x="1778" y="295" width="5" height="26" fill="#f23645"/>
<rect x="1787" y="279" width="1" height="57" fill="#089981"/>
<rect x="1785" y="279" width="5" height="34" fill="#089981"/>
</g>
<line x1="6" y1="279.5" x2="1868" y2="279.5" stroke="#089981" stroke-width="1" stroke-dasharray="1 2" shape-rendering="crispEdges"/>
<text x="1881.3" y="22" font-size="17.5" fill="#131722" stroke="#131722" stroke-width="0.3" textLength="61.5" lengthAdjust="spacingAndGlyphs">2,746.0</text>
<text x="1881.3" y="104" font-size="17.5" fill="#131722" stroke="#131722" stroke-width="0.3" textLength="61.5" lengthAdjust="spacingAndGlyphs">2,745.0</text>
<text x="1881.3" y="186" font-size="17.5" fill="#131722" stroke="#131722" stroke-width="0.3" textLength="61.5" lengthAdjust="spacingAndGlyphs">2,744.0</text>
<text x="1881.3" y="268" font-size="17.5" fill="#131722" stroke="#131722" stroke-width="0.3" textLength="61.5" lengthAdjust="spacingAndGlyphs">2,743.0</text>
<text x="1881.3" y="350" font-size="17.5" fill="#131722" stroke="#131722" stroke-width="0.3" textLength="61.5" lengthAdjust="spacingAndGlyphs">2,742.0</text>
<text x="1881.3" y="432" font-size="17.5" fill="#131722" stroke="#131722" stroke-width="0.3" textLength="61.5" lengthAdjust="spacingAndGlyphs">2,741.0</text>
<text x="1881.3" y="514" font-size="17.5" fill="#131722" stroke="#131722" stroke-width="0.3" textLength="61.5" lengthAdjust="spacingAndGlyphs">2,740.0</text>
<text x="1881.3" y="596" font-size="17.5" fill="#131722" stroke="#131722" stroke-width="0.3" textLength="61.5" lengthAdjust="spacingAndGlyphs">2,739.0</text>
<text x="1881.3" y="678" font-size="17.5" fill="#131722" stroke="#131722" stroke-width="0.3" textLength="61.5" lengthAdjust="spacingAndGlyphs">2,738.0</text>
<text x="1881.3" y="760" font-size="17.5" fill="#131722" stroke="#131722" stroke-width="0.3" textLength="61.5" lengthAdjust="spacingAndGlyphs">2,737.0</text>
<text x="1881.3" y="841" font-size="17.5" fill="#131722" stroke="#131722" stroke-width="0.3" textLength="61.5" lengthAdjust="spacingAndGlyphs">2,736.0</text>
<text x="1881.3" y="923" font-size="17.5" fill="#131722" stroke="#131722" stroke-width="0.3" textLength="61.5" lengthAdjust="spacingAndGlyphs">2,735.0</text>
<text x="1881.3" y="1005" font-size="17.5" fill="#131722" stroke="#131722" stroke-width="0.3" textLength="61.5" lengthAdjust="spacingAndGlyphs">2,734.0</text>
<text x="1881.3" y="1087" font-size="17.5" fill="#131722" stroke="#131722" stroke-width="0.3" textLength="61.5" lengthAdjust="spacingAndGlyphs">2,733.0</text>
<path d="M1869 266H1947a3 3 0 0 1 3 3V311a3 3 0 0 1 -3 3H1869Z" fill="#089981"/>
<text x="1881.3" y="284.6" font-size="17.5" fill="#fff" font-weight="normal" textLength="61.5" lengthAdjust="spacingAndGlyphs" stroke="#fff" stroke-width="0.5">2,742.8</text>
<text x="1881.3" y="305.8" font-size="17.5" fill="#fff" stroke="#fff" stroke-width="0.3" textLength="46" lengthAdjust="spacingAndGlyphs" fill-opacity="0.72">00:24</text>
<path d="M1869 1102H1905a3 3 0 0 1 3 3V1126a3 3 0 0 1 -3 3H1869Z" fill="#26a69a"/>
<text x="1881.5" y="1121.8" font-size="17.5" fill="#fff" font-weight="normal" textLength="19.5" lengthAdjust="spacingAndGlyphs" stroke="#fff" stroke-width="0.6">22</text>
<g clip-path="url(#pc)">
<text x="6.9" y="1161.2" font-size="17.5" fill="#131722" stroke="#131722" stroke-width="0.7">:<tspan x="13.4" textLength="21.3" lengthAdjust="spacingAndGlyphs">00</tspan></text>
<text x="219.1" y="1161.2" font-size="17.5" fill="#131722" stroke="#131722" stroke-width="0.3" textLength="44.6" lengthAdjust="spacingAndGlyphs">06:30</text>
<text x="448.2" y="1161.2" font-size="17.5" fill="#131722" font-weight="normal" textLength="48.4" lengthAdjust="spacingAndGlyphs" stroke="#131722" stroke-width="0.7">07:00</text>
<text x="673.1" y="1161.2" font-size="17.5" fill="#131722" stroke="#131722" stroke-width="0.3" textLength="44.6" lengthAdjust="spacingAndGlyphs">07:30</text>
<text x="894.2" y="1161.2" font-size="17.5" fill="#131722" font-weight="normal" textLength="48.4" lengthAdjust="spacingAndGlyphs" stroke="#131722" stroke-width="0.7">08:00</text>
<text x="1127.1" y="1161.2" font-size="17.5" fill="#131722" stroke="#131722" stroke-width="0.3" textLength="44.6" lengthAdjust="spacingAndGlyphs">08:30</text>
<text x="1355.2" y="1161.2" font-size="17.5" fill="#131722" font-weight="normal" textLength="48.4" lengthAdjust="spacingAndGlyphs" stroke="#131722" stroke-width="0.7">09:00</text>
<text x="1588.1" y="1161.2" font-size="17.5" fill="#131722" stroke="#131722" stroke-width="0.3" textLength="44.6" lengthAdjust="spacingAndGlyphs">09:30</text>
<text x="1817.2" y="1161.2" font-size="17.5" fill="#131722" font-weight="normal" textLength="48.4" lengthAdjust="spacingAndGlyphs" stroke="#131722" stroke-width="0.7">10:00</text>
</g>
<g fill="none" stroke="#131722" stroke-width="1.6" stroke-linejoin="round">
<path d="M1902.7 1154.7 L1907.9 1145.9 H1918.2 L1923.4 1154.7 L1918.2 1163.5 H1907.9 Z"/>
<circle cx="1913.1" cy="1154.7" r="3.4"/>
</g>
<circle cx="32.5" cy="26.4" r="13.5" fill="#d69a00"/>
<path d="M30.1 20.2H34.8L37.7 25.05H27.3Z M25.5 26.1H29.3L32.1 31H21.8Z M35.6 26.1H39.4L43.1 31H32.8Z" fill="#fff"/>
<text x="51.5" y="36.6" font-size="24" fill="#131722">黄金期货</text>
<text x="152.5" y="36.8" font-size="28" fill="#131722" font-weight="bold">·</text>
<text x="166.5" y="34.9" font-size="23.5" fill="#131722" stroke="#131722" stroke-width="0.3" textLength="11" lengthAdjust="spacingAndGlyphs">1</text>
<text x="182.9" y="36.8" font-size="28" fill="#131722" font-weight="bold">·</text>
<text x="196" y="34.9" font-size="23.5" fill="#131722" stroke="#131722" stroke-width="0.3" textLength="74.5" lengthAdjust="spacingAndGlyphs">COMEX</text>
<path d="M306.5 13H323V40H306.5a13.5 13.5 0 0 1 0 -27Z" fill="#dff3ef"/>
<path d="M323 13H339.5a13.5 13.5 0 0 1 0 27H323Z" fill="#ffddb0"/>
<circle cx="309" cy="26" r="6" fill="#089981"/>
<text x="329.5" y="32.6" font-size="18" fill="#f57c00" font-weight="bold" textLength="13" lengthAdjust="spacingAndGlyphs">D</text>
<text x="376.8" y="34.2" font-size="19.5" fill="#131722">开</text>
<text x="396.7" y="32.6" font-size="18.5" fill="#131722" font-weight="bold" textLength="9.4" lengthAdjust="spacingAndGlyphs" stroke="#131722" stroke-width="0.8">=</text>
<text x="407.6" y="32.4" font-size="18.5" fill="#089981" stroke="#089981" stroke-width="0.3" textLength="65.6" lengthAdjust="spacingAndGlyphs">2,742.4</text>
<text x="482.8" y="34.2" font-size="19.5" fill="#131722">高</text>
<text x="502.7" y="32.6" font-size="18.5" fill="#131722" font-weight="bold" textLength="9.4" lengthAdjust="spacingAndGlyphs" stroke="#131722" stroke-width="0.8">=</text>
<text x="513.8" y="32.4" font-size="18.5" fill="#089981" stroke="#089981" stroke-width="0.3" textLength="65.6" lengthAdjust="spacingAndGlyphs">2,742.8</text>
<text x="588.4" y="34.2" font-size="19.5" fill="#131722">低</text>
<text x="608.3" y="32.6" font-size="18.5" fill="#131722" font-weight="bold" textLength="9.4" lengthAdjust="spacingAndGlyphs" stroke="#131722" stroke-width="0.8">=</text>
<text x="619.6" y="32.4" font-size="18.5" fill="#089981" stroke="#089981" stroke-width="0.3" textLength="65.6" lengthAdjust="spacingAndGlyphs">2,742.1</text>
<text x="694.2" y="34.2" font-size="19.5" fill="#131722">收</text>
<text x="714.1" y="32.6" font-size="18.5" fill="#131722" font-weight="bold" textLength="9.4" lengthAdjust="spacingAndGlyphs" stroke="#131722" stroke-width="0.8">=</text>
<text x="725.0" y="32.4" font-size="18.5" fill="#089981" stroke="#089981" stroke-width="0.3" textLength="65.6" lengthAdjust="spacingAndGlyphs">2,742.8</text>
<text x="800.2" y="32.4" font-size="18.5" fill="#089981" stroke="#089981" stroke-width="0.3" textLength="36.6" lengthAdjust="spacingAndGlyphs">+0.5</text>
<text x="844.2" y="32.4" font-size="18.5" fill="#089981" stroke="#089981" stroke-width="0.3" textLength="73.6" lengthAdjust="spacingAndGlyphs">(+0.02%)</text>
<rect x="18.5" y="50.5" width="97" height="50" rx="8" fill="#fff" stroke="#f23645" stroke-width="1"/>
<text x="34.2" y="72.6" font-size="17.8" fill="#f23645" font-weight="bold" textLength="65.6" lengthAdjust="spacingAndGlyphs">2,742.6</text>
<text x="49.6" y="93.6" font-size="17" fill="#f23645">卖出</text>
<text x="127.6" y="79.8" font-size="15.2" fill="#131722" stroke="#131722" stroke-width="0.3" textLength="21.6" lengthAdjust="spacingAndGlyphs">0.2</text>
<rect x="161.5" y="50.5" width="97" height="50" rx="8" fill="#fff" stroke="#2962ff" stroke-width="1"/>
<text x="177.8" y="72.6" font-size="17.8" fill="#2962ff" font-weight="bold" textLength="65.6" lengthAdjust="spacingAndGlyphs">2,742.8</text>
<text x="192.6" y="93.6" font-size="17" fill="#2962ff">买入</text>
<text x="19.3" y="132" font-size="19.5" fill="#131722" stroke="#131722" stroke-width="0.3" textLength="27" lengthAdjust="spacingAndGlyphs">Vol</text>
<text x="57.2" y="132" font-size="19.5" fill="#26a69a" stroke="#26a69a" stroke-width="0.3" textLength="21.6" lengthAdjust="spacingAndGlyphs">22</text>
<rect x="20.5" y="146.5" width="41" height="30" rx="4.5" fill="#fff" stroke="#d4d7e0" stroke-width="1"/>
<path d="M35.5 164.5 L41.1 158.9 L46.7 164.5" fill="none" stroke="#131722" stroke-width="1.8"/>
<filter id="halo" x="-5%" y="-20%" width="110%" height="140%"><feMorphology in="SourceAlpha" operator="dilate" radius="2" result="d"/><feFlood flood-color="#fff"/><feComposite in2="d" operator="in" result="h"/><feMerge><feMergeNode in="h"/><feMergeNode in="SourceGraphic"/></feMerge></filter>
<g filter="url(#halo)" fill="#131722">
<path d="M41.4 1112H32.6V1098H23.7V1089.2H41.4Z"/>
<circle cx="49" cy="1094.3" r="5"/>
<path d="M59.2 1112H49.2L58.7 1089.2H68.7Z"/>
<text x="79.3" y="1112.1" font-size="32.5" font-weight="bold" stroke="#131722" stroke-width="0.7" textLength="181.5" lengthAdjust="spacingAndGlyphs">TradingView</text>
</g>
<circle cx="1787.65" cy="1113.55" r="14.55" fill="#fff" stroke="#fff" stroke-width="6"/>
<circle cx="1787.65" cy="1113.55" r="14.55" fill="#fff" stroke="#9c27b0" stroke-width="2.5"/>
<path d="M1792.3 1105.5 L1781.7 1114.1 L1787.6 1114.4 L1782.9 1121.4 L1793.5 1112.9 L1787.6 1112.6 Z" fill="#9c27b0" stroke="#9c27b0" stroke-width="0.7" stroke-linejoin="round"/>
</svg>
</body></html>
